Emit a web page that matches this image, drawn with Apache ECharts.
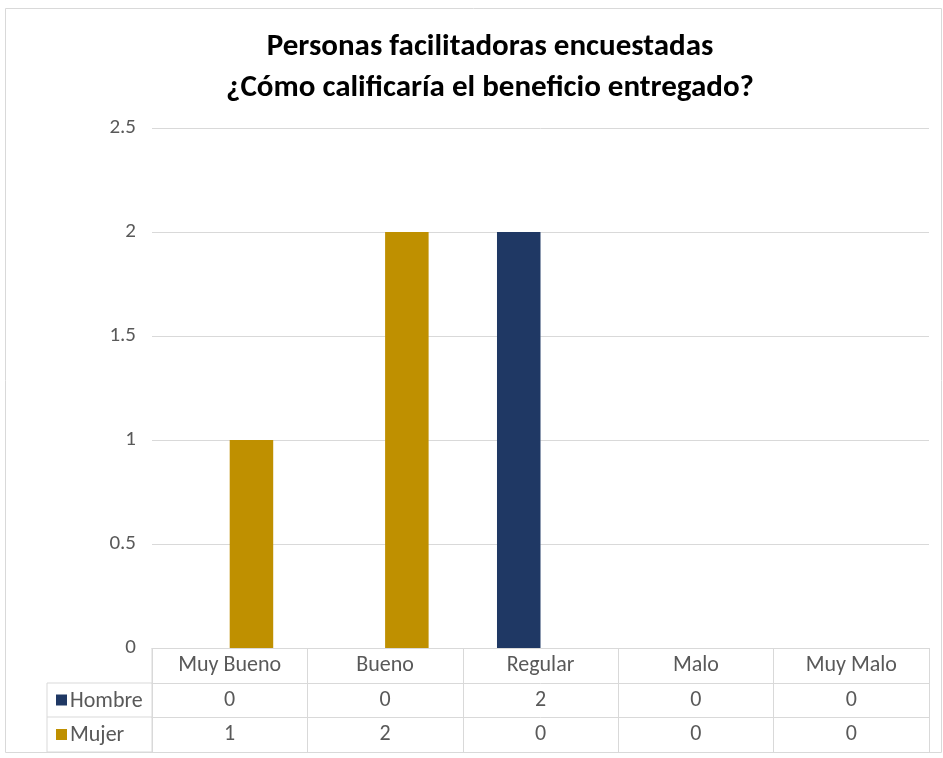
<!DOCTYPE html>
<html>
<head>
<meta charset="utf-8">
<script src="https://cdn.jsdelivr.net/npm/echarts@6/dist/echarts.min.js"></script>
<style>html,body{margin:0;padding:0;background:#fff}#c{width:943px;height:758px}</style>
</head>
<body>
<div id="c"></div>
<script>
const categories = ['Muy Bueno', 'Bueno', 'Regular', 'Malo', 'Muy Malo'];
const hombre = [0, 0, 2, 0, 0];
const mujer = [1, 2, 0, 0, 0];
const seriesNames = ['Hombre', 'Mujer'];
const yTicks = [0, 0.5, 1, 1.5, 2, 2.5];

const FONT = "Carlito, 'Liberation Sans Narrow', 'Open Sans', sans-serif";
const GRAY = '#595959';
const LINE = '#d9d9d9';
const COLORS = ['#1F3864', '#BF9000'];
const FS = 21;
const TFS = 22;

const chart = echarts.init(document.getElementById('c'), null, {renderer: 'canvas'});

const catAxis = (offset, labelFn, showLabel) => ({
  type: 'category',
  data: categories,
  position: 'bottom',
  offset: offset,
  boundaryGap: true,
  axisLine: {show: true, lineStyle: {color: LINE, width: 1}},
  axisTick: {show: false},
  axisLabel: {show: showLabel, color: GRAY, fontFamily: FONT, fontSize: TFS, margin: 6, formatter: labelFn, interval: 0},
  splitLine: {show: false}
});

const x0 = catAxis(0, v => v, true);
x0.axisTick = {show: true, length: 104, lineStyle: {color: LINE, width: 1}};

const option = {
  animation: false,
  title: {
    text: 'Personas facilitadoras encuestadas\n¿Cómo calificaría el beneficio entregado?',
    left: 485,
    textAlign: 'center',
    top: 22,
    textStyle: {fontFamily: FONT, fontSize: 31, fontWeight: 'bold', color: '#000', lineHeight: 41}
  },
  grid: {left: 152, right: 14, top: 128, bottom: 110},
  xAxis: [
    x0,
    catAxis(35, (v, i) => String(hombre[i]), true),
    catAxis(69, (v, i) => String(mujer[i]), true),
    catAxis(104, v => v, false)
  ],
  yAxis: {
    type: 'value',
    min: yTicks[0],
    max: yTicks[yTicks.length - 1],
    interval: 0.5,
    axisLine: {show: false},
    axisTick: {show: false},
    axisLabel: {color: GRAY, fontFamily: FONT, fontSize: FS, margin: 16},
    splitLine: {lineStyle: {color: LINE, width: 1}}
  },
  series: [
    {name: seriesNames[0], type: 'bar', data: hombre, itemStyle: {color: COLORS[0]}, barGap: '0%', barCategoryGap: '44%', xAxisIndex: 0},
    {name: seriesNames[1], type: 'bar', data: mujer, itemStyle: {color: COLORS[1]}, barGap: '0%', barCategoryGap: '44%', xAxisIndex: 0}
  ]
};
chart.setOption(option);

// Legend keys column of the data table
const left = 47, right = 152;
const rowY = [683, 717, 752];
const g = [
  {type: 'rect', shape: {x: 5.5, y: 8.5, width: 936, height: 744}, style: {fill: 'none', stroke: LINE, lineWidth: 1}, silent: true},
  {type: 'line', shape: {x1: left, y1: rowY[0], x2: right, y2: rowY[0]}, style: {stroke: LINE, lineWidth: 1}},
  {type: 'line', shape: {x1: left, y1: rowY[1], x2: right, y2: rowY[1]}, style: {stroke: LINE, lineWidth: 1}},
  {type: 'line', shape: {x1: left, y1: rowY[2], x2: right, y2: rowY[2]}, style: {stroke: LINE, lineWidth: 1}},
  {type: 'line', shape: {x1: left, y1: rowY[0], x2: left, y2: rowY[2]}, style: {stroke: LINE, lineWidth: 1}},
  {type: 'line', shape: {x1: right, y1: 648, x2: right, y2: rowY[2]}, style: {stroke: LINE, lineWidth: 1}}
];
seriesNames.forEach((n, i) => {
  const cy = (rowY[i] + rowY[i + 1]) / 2;
  g.push({type: 'rect', shape: {x: 56, y: cy - 5.5, width: 11, height: 11}, style: {fill: COLORS[i]}});
  g.push({type: 'text', x: 70, y: cy + 1, style: {text: n, fill: GRAY, font: TFS + 'px ' + FONT, verticalAlign: 'middle'}});
});
chart.setOption({graphic: g});
</script>
</body>
</html>
